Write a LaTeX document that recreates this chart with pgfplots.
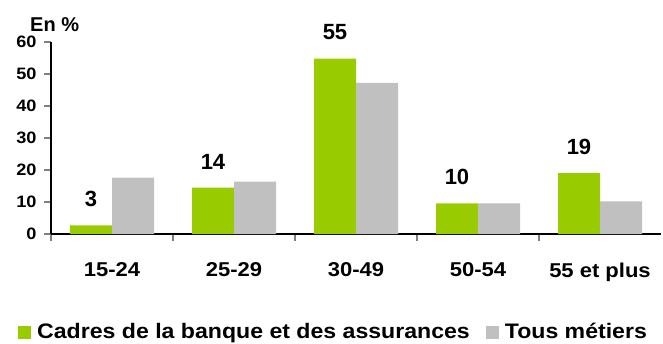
\documentclass[border=0pt]{standalone}
\usepackage{pgfplots}
\pgfplotsset{compat=1.18}
\usepackage{fontspec}
\setmainfont{Liberation Sans}
\newfontfamily\widefont[FakeStretch=1.1]{Liberation Sans}
\definecolor{cgreen}{RGB}{153,204,0}
\definecolor{cgray}{RGB}{192,192,192}
\begin{document}
\begin{tikzpicture}[x=1pt,y=1pt]
\path[use as bounding box] (-51,-109) rectangle (612,234);
\begin{axis}[
  at={(0,0)}, anchor=south west,
  scale only axis, width=610pt, height=192pt,
  xmin=-0.5, xmax=4.5, ymin=0, ymax=60,
  axis x line*=bottom, axis y line*=left,
  axis line style={line width=1.3pt, -},
  ybar, bar width=42pt,
  xtick={0,1,2,3,4},
  xticklabels={15-24,25-29,30-49,50-54,55 et plus},
  major x tick style={draw=none},
  minor xtick={-0.5,0.5,1.5,2.5,3.5},
  minor x tick style={line width=1.3pt},
  minor tick length=7pt,
  ytick={0,10,...,60},
  tick align=outside, major tick length=7pt,
  y tick style={line width=1.3pt},
  xticklabel style={font=\widefont\bfseries\fontsize{20}{20}\selectfont, yshift=-18pt},
  yticklabel style={font=\widefont\bfseries\fontsize{16.5}{16.5}\selectfont, xshift=-4pt},
  /pgf/number format/assume math mode=true,
  legend columns=2,
  legend style={at={(axis description cs:0,0)}, anchor=west, xshift=-33pt, yshift=-98pt,
    draw=none, font=\widefont\bfseries\fontsize{21}{21}\selectfont,
    inner sep=0pt,
    /tikz/every odd column/.append style={column sep=4pt},
    /tikz/every even column/.append style={column sep=14pt}},
  legend image code/.code={\fill[#1] (0pt,-6.5pt) rectangle (13pt,6.5pt);},
  clip=false,
]
\addplot[fill=cgreen, draw=none, bar shift=-21pt,
  nodes near coords, point meta=explicit symbolic,
  every node near coord/.append style={font=\bfseries\fontsize{22}{22}\selectfont, yshift=15pt, black}]
  coordinates {(0,2.7)[3] (1,14.5)[14] (2,54.8)[55] (3,9.6)[10] (4,19)[19]};
\addplot[fill=cgray, draw=none, bar shift=21pt]
  coordinates {(0,17.6) (1,16.4) (2,47.2) (3,9.6) (4,10.2)};
\legend{Cadres de la banque et des assurances, Tous métiers}
\node[anchor=base west, font=\bfseries\fontsize{20}{20}\selectfont, inner sep=0pt] at (rel axis cs:0,1) [xshift=-21pt, yshift=11pt] {En \%};
\end{axis}
\end{tikzpicture}
\end{document}
